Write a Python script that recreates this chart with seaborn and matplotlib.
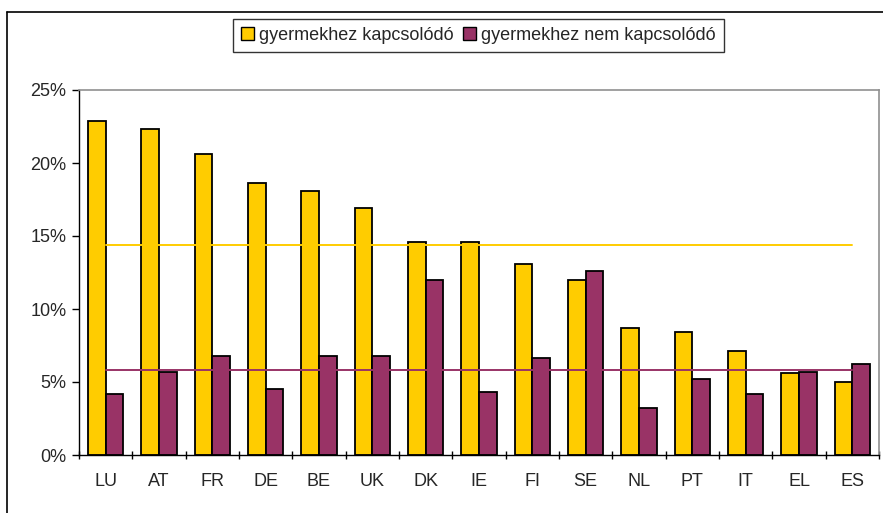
"""
Gyermekhez kapcsolódó / nem kapcsolódó arányok országonként
"""
import numpy as np
import pandas as pd
import matplotlib
matplotlib.use('Agg')
import matplotlib.pyplot as plt
from matplotlib.lines import Line2D
from matplotlib.patches import Patch
import seaborn as sns

sns.set_style('white')
plt.rcParams['font.family'] = ['Liberation Sans', 'DejaVu Sans']

# values, in percent
countries = ['LU', 'AT', 'FR', 'DE', 'BE', 'UK', 'DK', 'IE', 'FI', 'SE', 'NL', 'PT', 'IT', 'EL', 'ES']
child_related = [22.9, 22.3, 20.6, 18.6, 18.1, 16.9, 14.6, 14.6, 13.1, 12.0, 8.7, 8.4, 7.1, 5.6, 5.0]
not_child_related = [4.2, 5.7, 6.8, 4.5, 6.8, 6.75, 12.0, 4.3, 6.65, 12.6, 3.2, 5.2, 4.2, 5.7, 6.2]
avg_child = 14.4
avg_not_child = 5.8

series_names = ['gyermekhez kapcsolódó', 'gyermekhez nem kapcsolódó']
colors = ['#FFCC00', '#993366']

df = pd.DataFrame({
    'country': countries * 2,
    'series': [series_names[0]] * len(countries) + [series_names[1]] * len(countries),
    'value': child_related + not_child_related,
})

fig = plt.figure(figsize=(8.83, 5.13), dpi=100)
ax = fig.add_axes([79 / 883, 1 - 455 / 513, 800 / 883, 365 / 513])

sns.barplot(data=df, x='country', y='value', hue='series', order=countries,
            hue_order=series_names, palette=colors, width=0.667, saturation=1,
            edgecolor='black', linewidth=1.3, legend=False, ax=ax)

# average lines, from first to last category centre
ax.plot([0, len(countries) - 1], [avg_child, avg_child], color='#FFCC00', lw=1.4, zorder=1)
ax.plot([0, len(countries) - 1], [avg_not_child, avg_not_child], color='#993366', lw=1.4, zorder=1)

ax.set_xlim(-0.5, len(countries) - 0.5)
ax.set_ylim(0, 25)
ax.set_yticks(np.arange(0, 26, 5))
ax.set_yticklabels([f'{v}%' for v in range(0, 26, 5)])
ax.set_xlabel('')
ax.set_ylabel('')

ax.tick_params(axis='y', which='major', direction='out', length=5, width=1, color='black',
               labelsize=13, pad=4, left=True)
ax.tick_params(axis='x', which='major', length=0, labelsize=13, pad=13)
ax.set_xticks(np.arange(-0.5, len(countries), 1), minor=True)
ax.tick_params(axis='x', which='minor', direction='inout', length=6, width=1, color='black', bottom=True)

for side in ['left', 'bottom']:
    ax.spines[side].set_color('black')
    ax.spines[side].set_linewidth(1)
for side in ['top', 'right']:
    ax.spines[side].set_visible(True)
    ax.spines[side].set_color('#909090')
    ax.spines[side].set_linewidth(1.2)

handles = [Patch(facecolor=c, edgecolor='black', linewidth=1) for c in colors]
leg = fig.legend(handles, series_names, loc='center', bbox_to_anchor=(478.5 / 883, 1 - 35.5 / 513),
                 ncol=2, frameon=True, fancybox=False, fontsize=13, handlelength=0.7,
                 handleheight=0.7, handletextpad=0.3, columnspacing=0.5, borderpad=0.45)
leg.get_frame().set_edgecolor('black')
leg.get_frame().set_linewidth(1)

# outer chart border (cropped on right and bottom)
fig.add_artist(Line2D([7 / 883, 1], [1 - 12 / 513, 1 - 12 / 513], color='black', lw=1.2))
fig.add_artist(Line2D([7 / 883, 7 / 883], [0, 1 - 12 / 513], color='black', lw=1.2))

fig.savefig('out.png', dpi=100)
